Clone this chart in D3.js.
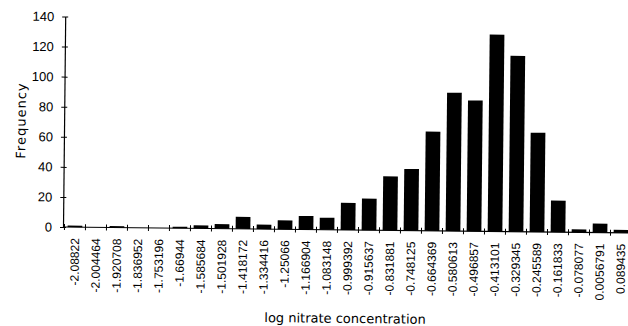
<!DOCTYPE html>
<html>
<head>
<meta charset="utf-8">
<script src="https://cdn.jsdelivr.net/npm/d3@7"></script>
<style>
  body { margin: 0; background: #fff; }
  svg { display: block; }
</style>
</head>
<body>
<svg id="chart" width="628" height="326"></svg>
<script>
// Histogram of log nitrate concentration
const categories = [
  "-2.08822", "-2.004464", "-1.920708", "-1.836952", "-1.753196", "-1.66944",
  "-1.585684", "-1.501928", "-1.418172", "-1.334416", "-1.25066", "-1.166904",
  "-1.083148", "-0.999392", "-0.915637", "-0.831881", "-0.748125", "-0.664369",
  "-0.580613", "-0.496857", "-0.413101", "-0.329345", "-0.245589", "-0.161833",
  "-0.078077", "0.0056791", "0.089435"
];
const frequency = [
  1, 0, 1, 0, 0, 1,
  2, 3, 8, 3, 6, 9,
  8, 18, 21, 36, 41, 66,
  92, 87, 131, 117, 66, 21,
  2, 6, 2
];
const yTicks = [0, 20, 40, 60, 80, 100, 120, 140];

const axisX = 63, baseY = 227, topY = 16.5;

const svg = d3.select("#chart");
const g = svg.append("g").attr("transform", `rotate(0.6, ${axisX}, ${baseY})`);

const x = d3.scaleBand()
  .domain(categories)
  .range([axisX, axisX + 570])
  .paddingInner(0.3)
  .paddingOuter(0.22);

const y = d3.scaleLinear().domain([0, 140]).range([baseY, topY]);

// bars
g.append("g").selectAll("rect")
  .data(categories.map((c, i) => ({ c, v: frequency[i] })))
  .join("rect")
  .attr("x", d => x(d.c))
  .attr("width", x.bandwidth())
  .attr("y", d => y(d.v))
  .attr("height", d => y(0) - y(d.v))
  .attr("fill", "#000");

// y axis with cross-shaped ticks
const yAxis = g.append("g")
  .attr("transform", `translate(${axisX},0)`)
  .call(d3.axisLeft(y).tickValues(yTicks).tickSizeOuter(0).tickSizeInner(3).tickPadding(8));
yAxis.select(".domain").attr("stroke", "#000").attr("stroke-width", 1.2);
yAxis.selectAll(".tick line").attr("x1", 3).attr("x2", -3).attr("stroke", "#000");
yAxis.selectAll(".tick text")
  .attr("font-family", "Liberation Sans, Arial, sans-serif")
  .attr("font-size", 13)
  .attr("fill", "#000");

// x axis line and boundary ticks
const half = (x.step() - x.bandwidth()) / 2;
const bounds = categories.map(c => x(c) - half).concat([x(categories[categories.length - 1]) + x.bandwidth() + half]);
g.append("line")
  .attr("x1", axisX).attr("x2", 640)
  .attr("y1", y(0)).attr("y2", y(0))
  .attr("stroke", "#000").attr("stroke-width", 1.2);
g.append("g").selectAll("line")
  .data(bounds)
  .join("line")
  .attr("x1", d => d).attr("x2", d => d)
  .attr("y1", y(0) - 3).attr("y2", y(0) + 3)
  .attr("stroke", "#000");

// category labels, rotated
g.append("g").selectAll("text")
  .data(categories)
  .join("text")
  .attr("transform", c => `translate(${x(c) + x.bandwidth() / 2},${y(0) + 11}) rotate(-90)`)
  .attr("dy", "0.35em")
  .attr("text-anchor", "end")
  .attr("font-family", "Liberation Sans, Arial, sans-serif")
  .attr("font-size", 12)
  .attr("fill", "#000")
  .text(c => c);

// axis titles
g.append("text")
  .attr("transform", `translate(20,121) rotate(-90)`)
  .attr("dy", "0.35em")
  .attr("text-anchor", "middle")
  .attr("font-family", "DejaVu Sans, sans-serif")
  .attr("font-size", 13)
  .attr("letter-spacing", 1)
  .attr("fill", "#000")
  .text("Frequency");

g.append("text")
  .attr("x", 346)
  .attr("y", 320)
  .attr("text-anchor", "middle")
  .attr("font-family", "DejaVu Sans, sans-serif")
  .attr("font-size", 13)
  .attr("fill", "#000")
  .text("log nitrate concentration");
</script>
</body>
</html>
